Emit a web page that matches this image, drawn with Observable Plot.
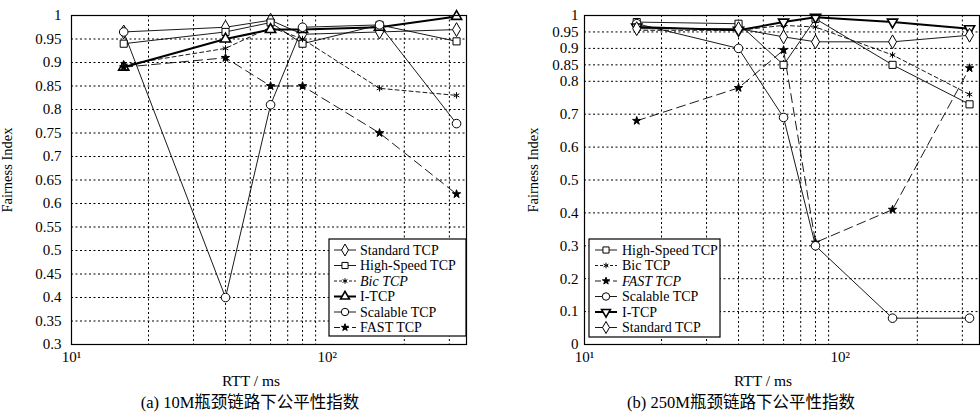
<!DOCTYPE html>
<html>
<head>
<meta charset="utf-8">
<script src="https://cdn.jsdelivr.net/npm/d3@7"></script>
<script src="https://cdn.jsdelivr.net/npm/@observablehq/plot@0.6"></script>
<style>
  html, body { margin: 0; padding: 0; background: #fff; }
  #wrap { display: flex; flex-direction: row; width: 980px; height: 414px; }
  #wrap svg, #wrap svg text { font-family: "Liberation Serif", "Noto Sans CJK SC", serif !important; }
</style>
</head>
<body>
<div id="wrap"></div>
<script>
// ---------- data ----------
const rtt = [16, 40, 60, 80, 160, 320];
const xGridTicks = [20, 30, 40, 50, 60, 70, 80, 90, 200, 300];
const xLabelTicks = [10, 100];
const xLabelText = ["10¹", "10²"];

// (a) 10M bottleneck
const std10   = [0.965, 0.975, 0.99, 0.96, 0.965, 0.97];
const hs10    = [0.94, 0.965, 0.985, 0.94, 0.98, 0.945];
const bic10   = [0.895, 0.93, 0.975, 0.95, 0.845, 0.83];
const itcp10  = [0.89, 0.95, 0.97, 0.97, 0.975, 0.998];
const scal10  = [0.965, 0.40, 0.81, 0.975, 0.98, 0.77];
const fast10  = [0.89, 0.91, 0.85, 0.85, 0.75, 0.62];
const yTicks10 = [0.3, 0.35, 0.4, 0.45, 0.5, 0.55, 0.6, 0.65, 0.7, 0.75, 0.8, 0.85, 0.9, 0.95, 1];

// (b) 250M bottleneck
const hs250   = [0.98, 0.975, 0.85, 0.99, 0.85, 0.73];
const bic250  = [0.955, 0.955, 0.97, 0.965, 0.88, 0.76];
const fast250 = [0.68, 0.78, 0.895, 0.31, 0.41, 0.84];
const scal250 = [0.975, 0.90, 0.69, 0.30, 0.08, 0.08];
const itcp250 = [0.965, 0.955, 0.98, 0.995, 0.98, 0.96];
const std250  = [0.96, 0.96, 0.935, 0.92, 0.92, 0.94];
const yTicks250 = [0, 0.1, 0.2, 0.3, 0.4, 0.5, 0.6, 0.7, 0.8, 0.85, 0.9, 0.95, 1];

const FONT = "Liberation Serif, Noto Sans CJK SC, serif";

const styles = {
  "Standard TCP":   {symbol: "diamond",  d3sym: d3.symbolDiamond,  fill: "white", width: 0.9, dash: null, r: 4.2},
  "High-Speed TCP": {symbol: "square",   d3sym: d3.symbolSquare,   fill: "white", width: 0.9, dash: null, r: 4},
  "Bic TCP":        {symbol: "asterisk", d3sym: d3.symbolAsterisk, fill: "none",  width: 0.9, dash: "4,3", r: 3},
  "I-TCP":          {symbol: "triangle", d3sym: d3.symbolTriangle, fill: "white", width: 2, dash: null, r: 3.8},
  "Scalable TCP":   {symbol: "circle",   d3sym: d3.symbolCircle,   fill: "white", width: 0.9, dash: null, r: 4.3},
  "FAST TCP":       {symbol: "star",     d3sym: d3.symbolStar,     fill: "black", width: 0.9, dash: "9,5", r: 2.6}
};

function makePanel(cfg) {
  const marks = [
    Plot.gridX(xGridTicks, {stroke: "black", strokeOpacity: 1, strokeWidth: 1, strokeDasharray: "2,2.5"}),
    Plot.gridY(cfg.yTicks, {stroke: "black", strokeOpacity: 1, strokeWidth: 1, strokeDasharray: "2,2.5"}),
    Plot.axisY(cfg.yTicks, {tickSize: 0, tickPadding: cfg.yPad, tickFormat: d => String(d), fontSize: 15, label: null}),
    Plot.axisX(xLabelTicks, {tickSize: 0, tickPadding: 7, tickFormat: d => xLabelText[xLabelTicks.indexOf(d)], fontSize: 15, label: null})
  ];
  for (const s of cfg.series) {
    const st = styles[s.name];
    const rows = rtt.map((x, i) => ({rtt: x, v: s.values[i]}));
    marks.push(Plot.line(rows, {x: "rtt", y: "v", stroke: "black", strokeWidth: st.width, strokeDasharray: st.dash}));
  }
  for (const s of cfg.series) {
    const st = styles[s.name];
    const rows = rtt.map((x, i) => ({rtt: x, v: s.values[i]}));
    const opts = {x: "rtt", y: "v", symbol: st.symbol, r: st.r, stroke: "black", fill: st.fill,
                  strokeWidth: s.name === "I-TCP" ? 1.6 : 1};
    if (s.name === "I-TCP" && cfg.invertTriangle) opts.rotate = 180;
    marks.push(Plot.dot(rows, opts));
  }
  marks.push(Plot.frame({stroke: "black", strokeWidth: 1.2}));

  const svg = Plot.plot({
    width: 490, height: 414,
    marginTop: 15, marginBottom: 70, marginLeft: cfg.marginLeft, marginRight: cfg.marginRight,
    style: {fontFamily: FONT, fontSize: "15px", color: "black", background: "white", overflow: "visible"},
    x: {type: "log", domain: [10, 350], axis: null},
    y: {domain: cfg.yDomain, axis: null},
    marks
  });

  const g = d3.select(svg).append("g").attr("fill", "black");
  // y label
  g.append("text").attr("transform", `translate(${cfg.yLabelX},170) rotate(-90)`)
    .attr("text-anchor", "middle").attr("font-size", 14.5).text("Fairness Index");
  // x label & caption
  g.append("text").attr("x", cfg.xLabelCx).attr("y", 386).attr("text-anchor", "middle")
    .attr("font-size", 15.5).text("RTT / ms");
  g.append("text").attr("x", cfg.captionCx).attr("y", 408).attr("text-anchor", "middle")
    .attr("font-size", 16.5).text(cfg.caption);

  // legend
  const L = cfg.legend;
  const lg = g.append("g");
  lg.append("rect").attr("x", L.x).attr("y", L.y).attr("width", L.w).attr("height", L.h)
    .attr("fill", "white").attr("stroke", "black").attr("stroke-width", 1.2);
  cfg.legendOrder.forEach((name, i) => {
    const st = styles[name];
    const cy = L.y + 11 + i * 15.5;
    lg.append("line").attr("x1", L.sx1).attr("x2", L.sx2).attr("y1", cy).attr("y2", cy)
      .attr("stroke", "black").attr("stroke-width", st.width)
      .attr("stroke-dasharray", st.dash ? (name === "FAST TCP" ? "6,3" : "3,2") : null);
    const area = Math.PI * st.r * st.r * 0.75;
    lg.append("path").attr("d", d3.symbol(st.d3sym, area)())
      .attr("transform", `translate(${(L.sx1 + L.sx2) / 2},${cy})` + (name === "I-TCP" && cfg.invertTriangle ? " rotate(180)" : ""))
      .attr("fill", st.fill).attr("stroke", "black").attr("stroke-width", name === "I-TCP" ? 1.6 : 1);
    lg.append("text").attr("x", L.tx).attr("y", cy).attr("dy", "0.35em").attr("font-size", 14)
      .attr("text-anchor", "start")
      .attr("font-style", (cfg.italic || []).includes(name) ? "italic" : null).text(name);
  });
  return svg;
}

const wrap = document.getElementById("wrap");
wrap.appendChild(makePanel({
  yDomain: [0.3, 1], yTicks: yTicks10, yPad: 10, marginLeft: 71, marginRight: 24,
  yLabelX: 12, xLabelCx: 251, captionCx: 250,
  caption: "(a) 10M瓶颈链路下公平性指数",
  series: [
    {name: "Standard TCP", values: std10},
    {name: "High-Speed TCP", values: hs10},
    {name: "Bic TCP", values: bic10},
    {name: "I-TCP", values: itcp10},
    {name: "Scalable TCP", values: scal10},
    {name: "FAST TCP", values: fast10}
  ],
  legendOrder: ["Standard TCP", "High-Speed TCP", "Bic TCP", "I-TCP", "Scalable TCP", "FAST TCP"],
  italic: ["Bic TCP"],
  legend: {x: 329, y: 239, w: 137, h: 97, sx1: 334, sx2: 356, tx: 360},
  invertTriangle: false
}));
wrap.appendChild(makePanel({
  yDomain: [0, 1], yTicks: yTicks250, yPad: 6, marginLeft: 94, marginRight: 1,
  yLabelX: 48, xLabelCx: 273, captionCx: 251,
  caption: "(b) 250M瓶颈链路下公平性指数",
  series: [
    {name: "High-Speed TCP", values: hs250},
    {name: "Bic TCP", values: bic250},
    {name: "FAST TCP", values: fast250},
    {name: "Scalable TCP", values: scal250},
    {name: "I-TCP", values: itcp250},
    {name: "Standard TCP", values: std250}
  ],
  legendOrder: ["High-Speed TCP", "Bic TCP", "FAST TCP", "Scalable TCP", "I-TCP", "Standard TCP"],
  italic: ["FAST TCP"],
  legend: {x: 99, y: 239, w: 131, h: 98, sx1: 105, sx2: 127, tx: 132},
  invertTriangle: true
}));
</script>
</body>
</html>
